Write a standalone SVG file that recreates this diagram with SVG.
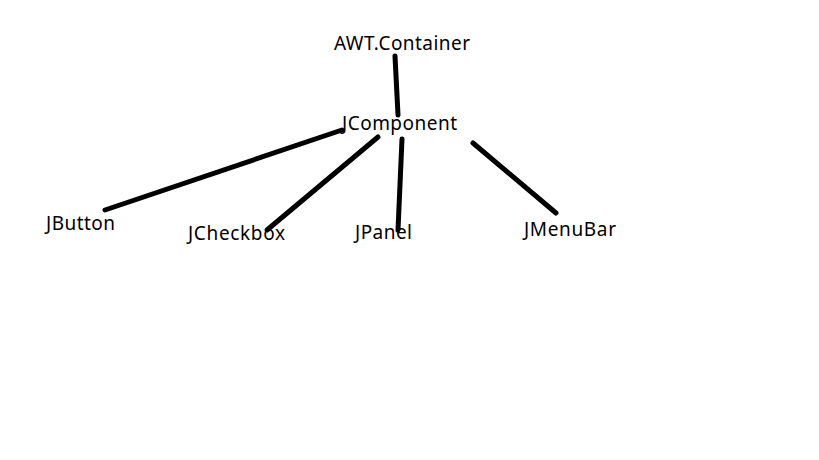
<svg xmlns="http://www.w3.org/2000/svg" width="819" height="460" viewBox="0 0 819 460">
<style>
text{font-family:"Noto Sans","Liberation Sans",sans-serif;font-size:19px;fill:#000}
.c line{stroke:#000;stroke-width:5;stroke-linecap:round}
</style>
<rect width="819" height="460" fill="#fff"/>
<g class="c" id="connectors">
<line x1="395" y1="56" x2="398" y2="115"/>
<line x1="342" y1="130" x2="105" y2="210"/>
<line x1="378" y1="137" x2="267" y2="230"/>
<line x1="402" y1="139" x2="398" y2="230"/>
<line x1="473" y1="143" x2="556" y2="213"/>
</g>
<g id="awt"><text x="334" y="50" textLength="136">AWT.Container</text></g>
<g id="jcomponent"><text x="342" y="130" textLength="115">JComponent</text></g>
<g id="jbutton"><text x="46" y="230" textLength="69">JButton</text></g>
<g id="jcheckbox"><text x="188" y="240" textLength="97">JCheckbox</text></g>
<g id="jpanel"><text x="355" y="239" textLength="57">JPanel</text></g>
<g id="jmenubar"><text x="524" y="236" textLength="92">JMenuBar</text></g>
</svg>
